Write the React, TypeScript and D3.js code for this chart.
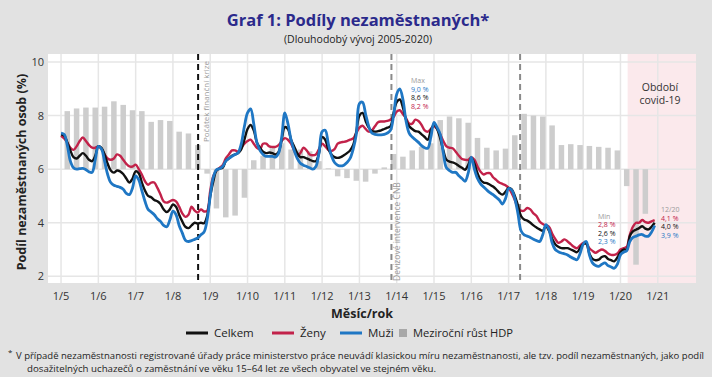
import React from 'react';
import * as d3 from 'd3';

// ---------- DATA ----------
// Monthly share of unemployed (%), Jan 2005 .. Dec 2020
const celkem: number[] = [
  7.3, 7.25, 7.0, 6.7, 6.45, 6.4, 6.5, 6.6, 6.5, 6.35, 6.3, 6.5, // 2005
  6.85, 6.8, 6.55, 6.2, 5.95, 5.87, 5.95, 5.92, 5.82, 5.65, 5.5, 5.65, // 2006
  5.92, 5.85, 5.5, 5.2, 5.0, 4.95, 4.85, 4.8, 4.7, 4.5, 4.4, 4.5, // 2007
  4.68, 4.6, 4.3, 4.05, 3.85, 3.8, 3.9, 4.0, 3.97, 4.0, 3.98, 4.25, // 2008
  5.0, 5.55, 5.95, 6.02, 6.05, 6.3, 6.4, 6.5, 6.55, 6.6, 6.75, 7.1, // 2009
  7.5, 7.65, 7.45, 7.0, 6.8, 6.65, 6.6, 6.62, 6.6, 6.55, 6.65, 7.1, // 2010
  7.57, 7.5, 7.1, 6.85, 6.6, 6.45, 6.45, 6.4, 6.35, 6.3, 6.3, 6.6, // 2011
  7.2, 7.1, 6.75, 6.55, 6.45, 6.42, 6.45, 6.52, 6.6, 6.7, 6.9, 7.4, // 2012
  8.0, 8.1, 7.8, 7.55, 7.42, 7.4, 7.42, 7.45, 7.5, 7.55, 7.6, 8.1, // 2013
  8.5, 8.6, 8.3, 7.85, 7.6, 7.5, 7.42, 7.4, 7.3, 7.2, 7.1, 7.45, // 2014
  7.66, 7.5, 7.15, 6.7, 6.35, 6.28, 6.25, 6.2, 6.12, 6.05, 5.98, 6.15, // 2015
  6.42, 6.2, 5.85, 5.6, 5.5, 5.48, 5.42, 5.35, 5.25, 5.12, 5.05, 5.15, // 2016
  5.3, 5.25, 5.0, 4.65, 4.25, 4.12, 4.08, 4.0, 3.9, 3.82, 3.75, 3.7, // 2017
  3.87, 3.7, 3.4, 3.2, 3.1, 3.05, 3.05, 3.05, 3.0, 2.95, 2.9, 3.05, // 2018
  3.2, 3.22, 2.85, 2.65, 2.6, 2.62, 2.72, 2.75, 2.65, 2.6, 2.56, 2.7, // 2019
  2.9, 3.0, 3.0, 3.5, 3.68, 3.74, 3.8, 3.87, 3.78, 3.75, 3.85, 4.0, // 2020
];
const zeny: number[] = [
  7.25, 7.15, 7.0, 6.8, 6.72, 6.85, 7.05, 7.18, 7.05, 6.9, 6.8, 6.8, // 2005
  6.85, 6.75, 6.55, 6.4, 6.35, 6.4, 6.55, 6.5, 6.35, 6.2, 6.1, 6.1, // 2006
  6.17, 6.0, 5.8, 5.55, 5.42, 5.5, 5.5, 5.3, 5.05, 4.8, 4.75, 4.8, // 2007
  4.85, 4.8, 4.6, 4.35, 4.22, 4.3, 4.6, 4.45, 4.38, 4.5, 4.42, 4.45, // 2008
  5.2, 5.75, 5.95, 6.05, 6.15, 6.4, 6.55, 6.7, 6.7, 6.65, 6.8, 6.95, // 2009
  7.05, 7.1, 6.95, 6.8, 6.75, 6.95, 6.95, 6.85, 6.83, 6.83, 6.9, 7.05, // 2010
  7.16, 7.1, 6.95, 6.7, 6.5, 6.6, 6.8, 6.7, 6.55, 6.52, 6.55, 6.75, // 2011
  6.95, 6.85, 6.72, 6.68, 6.75, 6.95, 7.0, 7.02, 7.05, 7.1, 7.15, 7.35, // 2012
  7.55, 7.62, 7.5, 7.4, 7.45, 7.6, 7.75, 7.78, 7.78, 7.8, 7.85, 7.95, // 2013
  8.15, 8.2, 8.05, 7.9, 7.7, 7.7, 7.85, 7.8, 7.65, 7.45, 7.4, 7.5, // 2014
  7.6, 7.5, 7.3, 7.05, 6.85, 6.8, 6.78, 6.65, 6.5, 6.38, 6.35, 6.35, // 2015
  6.45, 6.35, 6.1, 5.9, 5.8, 5.85, 5.85, 5.7, 5.6, 5.5, 5.45, 5.4, // 2016
  5.3, 5.1, 4.85, 4.55, 4.45, 4.45, 4.55, 4.5, 4.35, 4.25, 4.05, 3.95, // 2017
  3.9, 3.85, 3.6, 3.4, 3.25, 3.3, 3.38, 3.3, 3.2, 3.1, 3.05, 3.15, // 2018
  3.25, 3.22, 3.05, 2.95, 2.88, 2.95, 3.0, 2.95, 2.85, 2.8, 2.8, 2.85, // 2019
  3.0, 3.05, 3.1, 3.55, 3.85, 4.0, 4.0, 4.1, 4.02, 4.0, 4.05, 4.1, // 2020
];
const muzi: number[] = [
  7.35, 7.3, 6.9, 6.3, 6.05, 6.0, 6.02, 6.03, 5.98, 5.9, 5.88, 6.35, // 2005
  6.85, 6.75, 6.3, 5.8, 5.5, 5.4, 5.36, 5.32, 5.25, 5.1, 5.05, 5.3, // 2006
  5.75, 5.6, 5.2, 4.8, 4.5, 4.4, 4.3, 4.15, 4.05, 3.9, 3.85, 4.1, // 2007
  4.43, 4.3, 3.9, 3.62, 3.35, 3.3, 3.33, 3.38, 3.43, 3.55, 3.65, 4.1, // 2008
  5.0, 5.7, 5.98, 6.02, 6.1, 6.3, 6.4, 6.48, 6.55, 6.62, 6.95, 7.6, // 2009
  8.1, 8.25, 7.7, 7.0, 6.7, 6.55, 6.48, 6.48, 6.48, 6.45, 6.6, 7.2, // 2010
  8.1, 7.7, 7.1, 6.7, 6.4, 6.22, 6.15, 6.1, 6.05, 6.0, 6.1, 6.6, // 2011
  7.4, 7.45, 6.95, 6.5, 6.25, 6.15, 6.12, 6.15, 6.25, 6.4, 6.75, 7.3, // 2012
  8.45, 8.5, 8.05, 7.6, 7.35, 7.3, 7.28, 7.28, 7.3, 7.35, 7.45, 8.0, // 2013
  8.8, 9.0, 8.6, 7.8, 7.35, 7.2, 7.1, 7.0, 6.88, 6.8, 6.78, 7.2, // 2014
  7.75, 7.55, 7.3, 6.6, 6.05, 5.95, 5.88, 5.88, 5.75, 5.65, 5.55, 5.85, // 2015
  6.45, 6.0, 5.65, 5.45, 5.33, 5.22, 5.12, 5.05, 4.95, 4.85, 4.7, 4.9, // 2016
  5.28, 5.22, 4.9, 4.35, 3.7, 3.55, 3.5, 3.45, 3.38, 3.33, 3.3, 3.55, // 2017
  3.93, 3.75, 3.25, 3.0, 2.92, 2.87, 2.84, 2.8, 2.72, 2.66, 2.62, 2.85, // 2018
  3.2, 3.3, 2.8, 2.5, 2.4, 2.37, 2.45, 2.5, 2.4, 2.35, 2.3, 2.45, // 2019
  2.8, 2.9, 2.95, 3.3, 3.45, 3.5, 3.55, 3.56, 3.5, 3.5, 3.65, 3.9, // 2020
];
// Quarterly year-on-year GDP growth (%), 2005Q1 .. 2020Q3
const hdpRust: number[] = [
  6.5, 6.8, 6.9, 6.9, 7.0, 7.6, 7.2, 6.6, 6.5, 5.3, 5.5, 5.4, 4.2, 4.0, 2.7,
  -0.5, -4.4, -5.4, -5.2, -3.2,
  1.0, 1.5, 2.4, 2.9, 2.2, 2.2, 2.0, 0.9,
  0.1, -0.8, -1.0, -1.3, -1.4, -0.5, 0.2, 1.7,
  1.4, 2.1, 2.5, 2.9, 5.5, 5.9, 5.7, 5.2,
  3.5, 2.4, 2.1, 2.3, 3.8, 6.2, 6.0, 5.9,
  4.9, 2.7, 2.8, 2.7, 2.6, 2.5, 2.4, 2.1,
  -1.9, -10.7, -5.0,
];
const xTickLabels = ['1/5', '1/6', '1/7', '1/8', '1/9', '1/10', '1/11', '1/12', '1/13', '1/14', '1/15', '1/16', '1/17', '1/18', '1/19', '1/20', '1/21'];
const yTicks = [2, 4, 6, 8, 10];
// events (month index from Jan 2005)
const eventMonths = [44.1, 106.3, 147.7];
const eventLabels = ['Počátek finanční krize', 'Devizové intervence ČNB', ''];
const covidStartMonth = 182.3;
const maxVals = ['9,0 %', '8,6 %', '8,2 %'];
const minVals = ['2,8 %', '2,6 %', '2,3 %'];
const endVals = ['4,1 %', '4,0 %', '3,9 %'];
const legendLabels = ['Celkem', 'Ženy', 'Muži', 'Meziroční růst HDP'];

// ---------- STYLE ----------
const W = 712, H = 377;
const P = { l: 48, t: 54, r: 696, b: 283 };
const C_BLACK = '#111111';
const C_RED = '#c2224a';
const C_BLUE = '#1f77c4';
const C_BAR = '#cdcdcd';
const C_GRID = '#e6e6e6';
const FONT = "'Open Sans', 'Noto Sans', sans-serif";

export default function App() {
  const x = d3.scaleLinear().domain([-4.2, 204.3]).range([P.l, P.r]);
  const y = d3.scaleLinear().domain([1.75, 10.3]).range([P.b, P.t]);
  const gdpToY = (g: number) => y(6 + g / 3);
  const line = d3
    .line<number>()
    .x((_, i) => x(i))
    .y((d) => y(d))
    .curve(d3.curveCatmullRom.alpha(0.5));

  const barW = 5.5;
  const xTicks = xTickLabels.map((_, k) => k * 12);
  const annFs = 7;
  const dy = 8.5;

  const block = (x0: number, y0: number, head: string, vals: string[], cols: string[]) => (
    <g fontSize={annFs}>
      <text x={x0} y={y0} fill="#9a9a9a">{head}</text>
      {vals.map((v, k) => (
        <text key={k} x={x0} y={y0 + dy * (k + 1)} fill={cols[k]}>{v}</text>
      ))}
    </g>
  );

  return (
    <svg width={W} height={H} style={{ position: 'absolute', left: 0, top: 0, background: '#e2e2e2' }} fontFamily={FONT}>
      <rect x={0} y={0} width={W} height={H} fill="#e2e2e2" />
      {/* Title */}
      <text x={358} y={26} textAnchor="middle" fontSize={16.5} fontWeight={700} fill="#2b2a8c">
        Graf 1: Podíly nezaměstnaných*
      </text>
      <text x={358} y={43} textAnchor="middle" fontSize={10.5} fill="#222">
        (Dlouhodobý vývoj 2005-2020)
      </text>

      {/* Panel */}
      <rect x={P.l} y={P.t} width={P.r - P.l} height={P.b - P.t} fill="#ffffff" />
      <rect x={x(covidStartMonth)} y={P.t} width={P.r - x(covidStartMonth)} height={P.b - P.t} fill="#fbe9ec" />

      {/* Grid */}
      {yTicks.map((t) => (
        <line key={'gy' + t} x1={P.l} x2={P.r} y1={y(t)} y2={y(t)} stroke={C_GRID} strokeWidth={1.5} />
      ))}
      {xTicks.map((t) => (
        <line key={'gx' + t} x1={x(t)} x2={x(t)} y1={P.t} y2={P.b} stroke={C_GRID} strokeWidth={1.5} />
      ))}

      {/* Bars */}
      {hdpRust.map((g, q) => {
        const cx = x(3 * q + 2);
        const y0 = gdpToY(0);
        const y1 = gdpToY(g);
        return (
          <rect key={'b' + q} x={cx - barW / 2} y={Math.min(y0, y1)} width={barW} height={Math.abs(y1 - y0)} fill={C_BAR} />
        );
      })}

      {/* Event lines */}
      {eventMonths.map((m, k) => (
        <line
          key={'ev' + k}
          x1={x(m)}
          x2={x(m)}
          y1={P.t}
          y2={P.b}
          stroke={k === 0 ? '#111' : '#8a8a8a'}
          strokeWidth={2}
          strokeDasharray="6 4"
        />
      ))}
      <text transform={`translate(${x(eventMonths[0]) + 11},142) rotate(-90)`} fontSize={8} fill="#9a9a9a">
        {eventLabels[0]}
      </text>
      <text transform={`translate(${x(eventMonths[1]) + 9},281) rotate(-90)`} fontSize={8.5} fill="#9a9a9a">
        {eventLabels[1]}
      </text>

      {/* Lines */}
      <path d={line(zeny) || ''} fill="none" stroke={C_RED} strokeWidth={2.4} />
      <path d={line(celkem) || ''} fill="none" stroke={C_BLACK} strokeWidth={2.4} />
      <path d={line(muzi) || ''} fill="none" stroke={C_BLUE} strokeWidth={2.8} />

      {/* Annotations */}
      {block(411, 83, 'Max', maxVals, [C_BLUE, C_BLACK, C_RED])}
      {block(598, 218.5, 'Min', minVals, [C_RED, C_BLACK, C_BLUE])}
      {block(661, 212, '12/20', endVals, [C_RED, C_BLACK, C_BLUE])}
      <text x={660} y={91} textAnchor="middle" fontSize={10.5} fill="#333">Období</text>
      <text x={660} y={104} textAnchor="middle" fontSize={10.5} fill="#333">covid-19</text>

      {/* Axes labels */}
      {yTicks.map((t) => (
        <text key={'yl' + t} x={44} y={y(t) + 4} textAnchor="end" fontSize={11} fill="#333">
          {t}
        </text>
      ))}
      {xTicks.map((t, k) => (
        <text key={'xl' + t} x={x(t)} y={300} textAnchor="middle" fontSize={11} fill="#333">
          {xTickLabels[k]}
        </text>
      ))}
      <text transform="translate(26,172) rotate(-90)" textAnchor="middle" fontSize={12.5} fontWeight={700} fill="#222">
        Podíl nezaměstnaných osob (%)
      </text>
      <text x={362} y={318} textAnchor="middle" fontSize={12.5} fontWeight={700} fill="#222">
        Měsíc/rok
      </text>

      {/* Legend */}
      <g fontSize={11.5} fill="#222">
        <line x1={186} x2={208} y1={333} y2={333} stroke={C_BLACK} strokeWidth={3} />
        <text x={214} y={337.2}>{legendLabels[0]}</text>
        <line x1={272} x2={294} y1={333} y2={333} stroke={C_RED} strokeWidth={3} />
        <text x={300} y={337.2}>{legendLabels[1]}</text>
        <line x1={340} x2={362} y1={333} y2={333} stroke={C_BLUE} strokeWidth={3} />
        <text x={368} y={337.2}>{legendLabels[2]}</text>
        <rect x={399} y={329} width={8} height={8} fill="#a8a8a8" />
        <text x={413} y={337.2} textLength={100} lengthAdjust="spacingAndGlyphs">{legendLabels[3]}</text>
      </g>

      {/* Footnote */}
      <text x={8} y={355} fontSize={8} fill="#222">*</text>
      <text x={16} y={358.5} fontSize={9.5} fill="#222" textLength={688} lengthAdjust="spacingAndGlyphs">
        V případě nezaměstnanosti registrované úřady práce ministerstvo práce neuvádí klasickou míru nezaměstnanosti, ale tzv. podíl nezaměstnaných, jako podíl
      </text>
      <text x={27} y={372} fontSize={9.5} fill="#222" textLength={409} lengthAdjust="spacingAndGlyphs">
        dosažitelných uchazečů o zaměstnání ve věku 15–64 let ze všech obyvatel ve stejném věku.
      </text>
    </svg>
  );
}
